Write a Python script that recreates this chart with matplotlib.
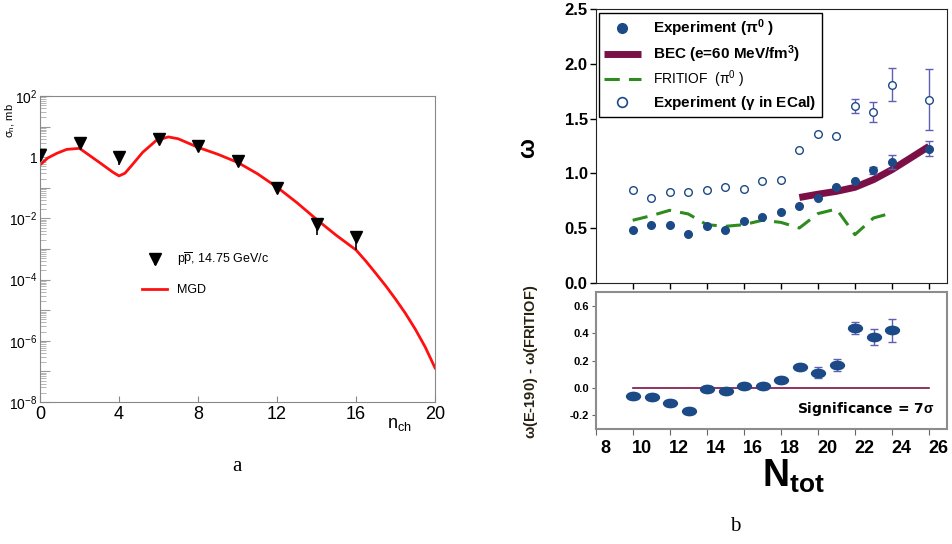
#!/usr/bin/env python3
"""Two-panel figure: (a) multiplicity distribution, (b) scaled variance vs N_tot."""

import math

import matplotlib

matplotlib.use("Agg")
import matplotlib.pyplot as plt  # noqa: E402
import matplotlib.transforms as mtransforms  # noqa: E402
from matplotlib.lines import Line2D  # noqa: E402
from matplotlib.path import Path  # noqa: E402
from matplotlib.ticker import FixedLocator, FuncFormatter, LogLocator, NullFormatter  # noqa: E402

plt.rcParams["font.family"] = ["Liberation Sans", "DejaVu Sans"]
plt.rcParams["mathtext.fontset"] = "custom"
plt.rcParams["mathtext.rm"] = "Liberation Sans"
plt.rcParams["mathtext.it"] = "Liberation Sans:italic"
plt.rcParams["mathtext.bf"] = "Liberation Sans:bold"

# ---- panel a: p pbar 14.75 GeV/c ----
n_ch = [0, 2, 4, 6, 8, 10, 12, 14, 16]
sigma_n = [1.2, 3.0, 1.0, 4.0, 2.3, 0.75, 0.097, 0.0065, 0.0024]
sigma_lo = [0.0, 0.0, 0.45, 0.0, 0.0, 0.0, 0.0, 0.0036, 0.0015]
sigma_hi = [0.0, 0.0, 0.0, 0.0, 0.0, 0.0, 0.0, 0.0, 0.0009]

mgd_n = [0, 0.4, 0.85, 1.35, 2, 3, 3.7, 4, 4.3, 4.6, 5.2, 5.9, 6.5, 7, 8, 9,
         10, 11, 12, 13, 14, 15, 16, 16.5, 17, 17.5, 18, 18.5, 19, 19.5, 20]
mgd_sigma = [0.56, 0.95, 1.34, 1.8, 1.95, 0.68, 0.32, 0.245, 0.3, 0.5, 1.45,
             3.6, 4.6, 4.0, 2.1, 1.25, 0.68, 0.29, 0.105, 0.033, 0.0093,
             0.0028, 9.3e-4, 4.0e-4, 1.6e-4, 6.3e-5, 2.3e-5, 7.9e-6, 2.4e-6,
             6.3e-7, 1.3e-7]

# ---- panel b: omega vs N_tot ----
n_tot = [10, 11, 12, 13, 14, 15, 16, 17, 18, 19, 20, 21, 22, 23, 24, 26]
omega_pi0 = [0.487, 0.532, 0.526, 0.447, 0.517, 0.487, 0.563, 0.602, 0.645,
             0.70, 0.776, 0.876, 0.928, 1.028, 1.104, 1.226]
omega_pi0_err = [0, 0, 0, 0, 0, 0, 0, 0, 0, 0, 0, 0, 0, 0.03, 0.06, 0.07]
omega_gamma = [0.852, 0.776, 0.830, 0.827, 0.852, 0.876, 0.858, 0.928, 0.943,
               1.210, 1.36, 1.338, 1.612, 1.563, 1.81, 1.673]
omega_gamma_err = [0, 0, 0, 0, 0, 0, 0, 0, 0, 0, 0, 0, 0.065, 0.09, 0.15, 0.28]

bec_n = [19, 20, 21, 22, 23, 24, 25, 26]
bec_omega = [0.78, 0.81, 0.836, 0.873, 0.943, 1.034, 1.14, 1.247]

fritiof_n = [10, 11, 12, 13, 14, 15, 16, 17, 18, 19, 20, 21, 22, 23, 24]
fritiof_omega = [0.572, 0.614, 0.663, 0.63, 0.532, 0.517, 0.532, 0.572, 0.553,
                 0.502, 0.633, 0.675, 0.441, 0.593, 0.639]

diff_n = [10, 11, 12, 13, 14, 15, 16, 17, 18, 19, 20, 21, 22, 23, 24]
diff_omega = [-0.058, -0.063, -0.107, -0.17, -0.007, -0.024, 0.017, 0.017,
              0.058, 0.155, 0.112, 0.167, 0.439, 0.371, 0.42]
diff_err = [0, 0, 0, 0, 0, 0, 0, 0, 0, 0, 0.04, 0.045, 0.045, 0.06, 0.085]

DARK_BLUE = "#1c4a86"
ERR_BLUE = "#5f5fb4"
MAROON = "#7b1046"
GREEN = "#2e8b1e"

fig = plt.figure(figsize=(9.53, 5.44), dpi=100)

# ================= panel a =================
ax = fig.add_axes([0.042, 0.261, 0.4145, 0.5625])
ax.set_yscale("log")
ax.plot(mgd_n, mgd_sigma, color="#ff1010", lw=2, label="MGD", zorder=2)
ax.errorbar(n_ch, sigma_n, yerr=[sigma_lo, sigma_hi], fmt="v", color="black",
            ms=8, elinewidth=1.2, capsize=0, zorder=3,
            label=r"p$\mathregular{\overline{p}}$, 14.75 GeV/c")
ax.set_xlim(0, 20)
ax.set_ylim(1e-8, 1e2)
ax.set_xticks([0, 4, 8, 12, 16, 20])
ax.tick_params(axis="x", direction="in", length=4, color="#888888",
               labelsize=13, pad=3)
ax.yaxis.set_major_locator(FixedLocator([10.0 ** k for k in range(-8, 3)]))
ax.yaxis.set_minor_locator(LogLocator(base=10, subs=range(2, 10), numticks=20))
ax.yaxis.set_minor_formatter(NullFormatter())


def ylab(v, pos):
    k = int(round(math.log10(v)))
    if k % 2:
        return ""
    if k == 0:
        return "1"
    return r"$\mathregular{10^{%d}}$" % k


ax.yaxis.set_major_formatter(FuncFormatter(ylab))
ax.tick_params(axis="y", which="major", direction="in", length=7,
               color="#999999", labelsize=10, pad=2)
ax.tick_params(axis="y", which="minor", direction="in", length=4,
               color="#aaaaaa")
for s in ax.spines.values():
    s.set_color("#888888")
ax.set_ylabel(r"$\mathregular{\sigma_n}$, mb", fontsize=8, labelpad=1)
ax.yaxis.set_label_coords(-0.058, 0.92)
ax.text(0.91, -0.075, r"$\mathregular{n_{ch}}$", transform=ax.transAxes,
        fontsize=13, ha="center", va="center")
handles, labels = ax.get_legend_handles_labels()
ax.legend(handles[::-1], labels[::-1], loc="upper left",
          bbox_to_anchor=(0.23, 0.53), frameon=False, fontsize=9,
          labelspacing=1.3, handlelength=2.0, handletextpad=0.8)
fig.text(0.249, 0.142, "a", family="Liberation Serif", fontsize=15,
         ha="center", va="center")

# ================= panel b upper =================
xlim_b = (8.02, 26.97)
au = fig.add_axes([0.6254, 0.4798, 0.3683, 0.5037])
au.plot(bec_n, bec_omega, color=MAROON, lw=5, solid_capstyle="butt", zorder=2)
au.plot(fritiof_n, fritiof_omega, color=GREEN, lw=2.2, ls=(0, (5, 3)),
        zorder=2)
au.errorbar(n_tot, omega_gamma, yerr=omega_gamma_err, fmt="o", mfc="white",
            mec=DARK_BLUE, mew=1, ms=5.5, ecolor=ERR_BLUE, elinewidth=1,
            capsize=3, zorder=3)
au.errorbar(n_tot, omega_pi0, yerr=omega_pi0_err, fmt="o", color=DARK_BLUE,
            ms=5.5, ecolor=ERR_BLUE, elinewidth=1, capsize=3, zorder=4)
au.set_xlim(*xlim_b)
au.set_ylim(0, 2.5)
au.set_xticks([10, 12, 14, 16, 18, 20, 22, 24, 26])
au.set_xticklabels([])
au.set_yticks([0, 0.5, 1.0, 1.5, 2.0, 2.5])
au.set_yticklabels(["0.0", "0.5", "1.0", "1.5", "2.0", "2.5"])
au.tick_params(axis="both", direction="out", length=4, width=1,
               labelsize=12, pad=2)
for lab in au.get_yticklabels():
    lab.set_fontweight("bold")
au.set_ylabel(r"$\mathbf{\omega}$", fontsize=17, fontweight="bold")
au.yaxis.set_label_coords(-0.16, 0.49)
for s in au.spines.values():
    s.set_color("#222222")

leg_handles = [
    Line2D([], [], ls="none", marker="o", ms=7, color=DARK_BLUE),
    Line2D([], [], color=MAROON, lw=5, solid_capstyle="butt"),
    Line2D([], [], color=GREEN, lw=2.2, ls=(0, (5, 3))),
    Line2D([], [], ls="none", marker="o", ms=7, mfc="white", mec=DARK_BLUE,
           mew=1.2),
]
leg_labels = [
    r"Experiment ($\mathbf{\pi^0}$ )",
    r"BEC (e=60 MeV/fm$\mathregular{^3}$)",
    r"FRITIOF  ($\mathregular{\pi^0}$ )",
    r"Experiment ($\mathbf{\gamma}$ in ECal)",
]
leg = au.legend(leg_handles, leg_labels, loc="upper left",
                bbox_to_anchor=(0.008, 0.987), fancybox=False, framealpha=1,
                edgecolor="black", fontsize=11, handlelength=2.4,
                labelspacing=0.25, borderpad=0.35, handletextpad=0.8,
                borderaxespad=0)
leg.get_frame().set_linewidth(1)
for i, t in enumerate(leg.get_texts()):
    if i == 2:
        t.set_fontsize(10)
    else:
        t.set_fontweight("bold")

# ================= panel b lower =================
ellipse = Path.unit_circle()
ellipse = Path(ellipse.vertices * [1.0, 0.6], ellipse.codes)

al = fig.add_axes([0.6254, 0.2114, 0.3683, 0.2518])
al.plot([10, 26], [0, 0], color=MAROON, lw=1.2, zorder=2)
al.errorbar(diff_n, diff_omega, yerr=diff_err, fmt="none", ecolor=ERR_BLUE,
            elinewidth=1, capsize=3, zorder=3)
al.plot(diff_n, diff_omega, ls="none", marker=ellipse, ms=10,
        color=DARK_BLUE, zorder=4)
al.set_xlim(*xlim_b)
al.set_ylim(-0.3, 0.7)
al.set_yticks([-0.2, 0.0, 0.2, 0.4, 0.6])
al.set_yticklabels(["-0.2", "0.0", "0.2", "0.4", "0.6"])
xt = [8, 10, 12, 14, 16, 18, 20, 22, 24, 26]
al.set_xticks(xt)
al.set_xticklabels([str(v) for v in xt])
al.tick_params(axis="y", direction="out", length=3, labelsize=8, pad=2,
               color="#666666")
al.tick_params(axis="x", direction="out", length=4, labelsize=13, pad=4,
               color="#666666")
shift = mtransforms.ScaledTranslation(9 / 100, 0, fig.dpi_scale_trans)
for lab in al.get_xticklabels():
    lab.set_fontweight("bold")
    lab.set_transform(lab.get_transform() + shift)
for lab in al.get_yticklabels():
    lab.set_fontweight("bold")
for s in al.spines.values():
    s.set_color("#8c8c8c")
    s.set_linewidth(1.5)
al.set_ylabel(r"$\mathbf{\omega}$(E-190) - $\mathbf{\omega}$(FRITIOF)",
              fontsize=10.5, fontweight="bold", color="#2a2210")
al.yaxis.set_label_coords(-0.16, 0.49)
al.text(0.965, 0.145, r"Significance = 7$\mathbf{\sigma}$",
        transform=al.transAxes, ha="right", va="center", fontsize=10,
        fontweight="bold", family="DejaVu Sans")

fig.text(0.833, 0.125, r"$\mathbf{N_{tot}}$", fontsize=27, ha="center",
         va="center")
fig.text(0.771, 0.032, "b", family="Liberation Serif", fontsize=15,
         ha="center", va="center")

fig.savefig("out.png", dpi=100)
